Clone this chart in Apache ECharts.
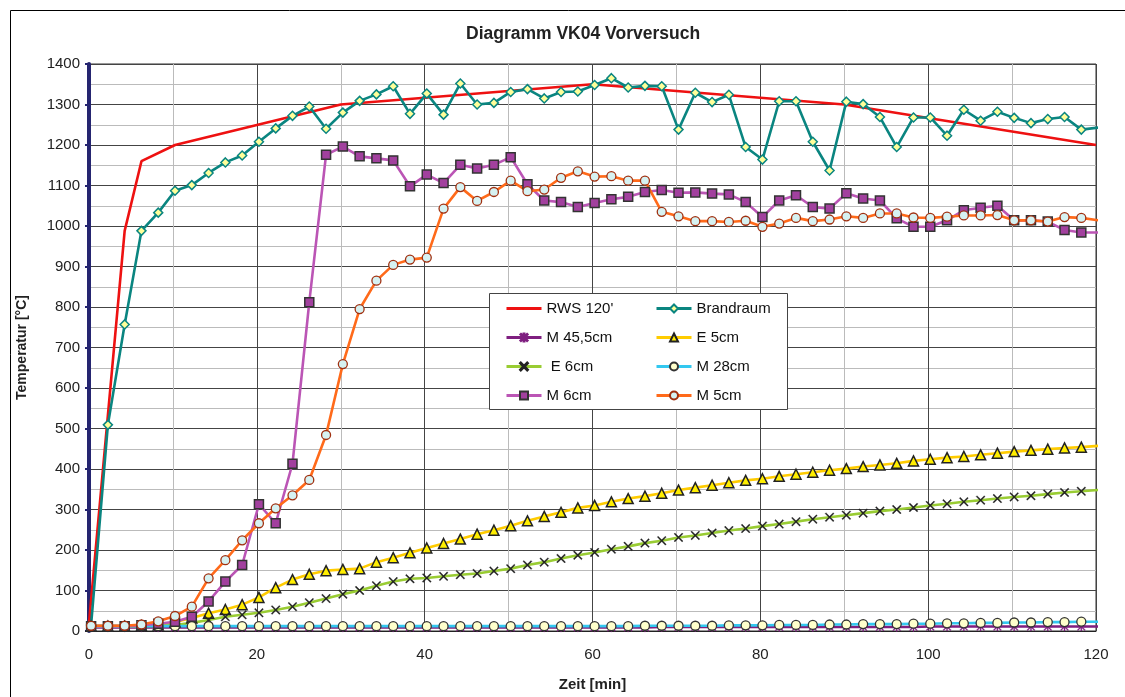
<!DOCTYPE html>
<html>
<head>
<meta charset="utf-8">
<script src="https://cdn.jsdelivr.net/npm/echarts@6/dist/echarts.min.js"></script>
<style>
html,body{margin:0;padding:0;background:#fff;}
#chart{width:1125px;height:697px;}
</style>
</head>
<body>
<div id="chart"></div>
<script>
// Time of each measurement [min]
var times = [0.25,2.25,4.25,6.25,8.25,10.25,12.25,14.25,16.25,18.25,
  20.25,22.25,24.25,26.25,28.25,30.25,32.25,34.25,36.25,38.25,
  40.25,42.25,44.25,46.25,48.25,50.25,52.25,54.25,56.25,58.25,
  60.25,62.25,64.25,66.25,68.25,70.25,72.25,74.25,76.25,78.25,
  80.25,82.25,84.25,86.25,88.25,90.25,92.25,94.25,96.25,98.25,
  100.25,102.25,104.25,106.25,108.25,110.25,112.25,114.25,116.25,118.25,120.25];

// RWS 120' design fire curve [time, temperature]
var rwsTimes = [0, 4.25, 6.25, 10.25, 30, 60, 90, 120];
var rwsTemps = [20, 988, 1160, 1200, 1300, 1350, 1300, 1200];

var brandraum = [15,509,757,988,1033,1087,1101,1131,1157,1174,
  1208,1241,1272,1295,1240,1280,1309,1325,1345,1277,
  1327,1275,1352,1300,1304,1331,1338,1315,1331,1332,
  1348,1365,1342,1346,1345,1238,1329,1306,1324,1195,
  1164,1308,1308,1208,1137,1307,1301,1269,1195,1268,
  1268,1223,1287,1260,1282,1267,1254,1264,1269,1238,1243];

var m455 = [9,9,9,9,9,9,9,9,9,9,
  9,9,9,9,9,9,9,9,9,9,
  9,9,9,9,9,9,9,9,9,9,
  9,9,9,9,10,10,10,10,10,10,
  10,10,10,10,10,10,10,10,10,10,
  11,11,11,11,11,11,11,11,11,11,11];

var e5 = [12,12,12,13,15,22,32,44,53,65,
  83,107,127,140,149,152,154,170,181,193,
  205,216,227,239,249,260,272,283,293,304,
  310,319,327,333,340,348,354,360,366,372,
  376,382,387,392,397,401,406,410,414,420,
  424,428,431,435,439,443,446,449,452,454,457];

var e6 = [12,12,12,12,13,15,20,27,35,40,
  45,52,60,70,80,91,100,112,122,129,
  131,135,139,142,148,154,163,170,179,187,
  194,202,209,217,223,231,236,242,248,253,
  259,264,270,276,281,286,291,296,300,305,
  310,314,319,323,327,331,334,338,342,345,348];

var m28 = [12,12,12,12,12,12,12,12,12,12,
  12,12,12,12,12,12,12,12,12,12,
  12,12,12,12,12,12,12,12,12,12,
  12,12,12,13,13,13,13,13,14,14,
  14,15,15,15,16,16,17,17,17,18,
  18,19,19,20,20,21,21,22,22,23,23];

var m6 = [12,12,12,14,18,23,35,73,122,163,
  313,266,413,812,1176,1196,1172,1167,1162,1098,
  1127,1106,1151,1142,1151,1170,1103,1063,1059,1047,
  1057,1066,1072,1084,1089,1082,1083,1080,1078,1059,
  1022,1063,1076,1047,1043,1081,1068,1063,1019,998,
  998,1014,1039,1045,1050,1014,1014,1011,990,984,984];

var m5 = [13,13,13,16,24,37,60,130,175,224,
  266,303,335,373,484,659,795,865,904,917,
  922,1043,1096,1062,1084,1112,1086,1090,1119,1135,
  1122,1123,1112,1112,1035,1024,1012,1012,1010,1013,
  998,1006,1020,1012,1016,1024,1020,1031,1031,1021,
  1020,1023,1026,1026,1027,1014,1014,1011,1022,1020,1014];

var xTicks = [0, 20, 40, 60, 80, 100, 120];
var yRange = [0, 1400];

function pairs(xs, ys) {
  var out = [];
  for (var i = 0; i < ys.length; i++) out.push([xs[i], ys[i]]);
  return out;
}

var FONT = '"Liberation Sans", Arial, sans-serif';
var crossPath = 'path://M0,1L1,0L5,4L9,0L10,1L6,5L10,9L9,10L5,6L1,10L0,9L4,5Z';
var starPath = 'path://M4.4,0H5.6V10H4.4Z M0,4.4H10V5.6H0Z M1.2,0.4L9.6,8.8L8.8,9.6L0.4,1.2Z M8.8,0.4L9.6,1.2L1.2,9.6L0.4,8.8Z';

function lineSeries(name, data, color, symbol, size, fill, border, bw) {
  return {
    name: name, type: 'line', data: data,
    lineStyle: {color: color, width: 2.6},
    itemStyle: {color: fill, borderColor: border, borderWidth: bw},
    symbol: symbol, symbolSize: size, showSymbol: symbol !== 'none',
    clip: true, emphasis: {disabled: true}, animation: false
  };
}

var legendCommon = {
  orient: 'vertical', top: 300, itemWidth: 35, itemHeight: 10, itemGap: 12, padding: 0,
  lineStyle: {width: 3},
  textStyle: {fontSize: 15, color: '#111', fontFamily: FONT, lineHeight: 17}, selectedMode: false, z: 6
};

var chart = echarts.init(document.getElementById('chart'), null, {renderer: 'canvas'});
var option = {
  backgroundColor: '#ffffff',
  animation: false,
  textStyle: {fontFamily: FONT},
  grid: {left: 89, right: 29, top: 64, bottom: 65, show: true, borderColor: '#333', borderWidth: 1, backgroundColor: '#fff'},
  xAxis: {
    type: 'value', min: xTicks[0], max: xTicks[xTicks.length - 1], interval: 20,
    name: 'Zeit [min]', nameLocation: 'middle', nameGap: 46,
    nameTextStyle: {fontSize: 15, fontWeight: 'bold', color: '#222', fontFamily: FONT},
    axisLine: {show: true, lineStyle: {color: '#222', width: 1}},
    axisTick: {show: false},
    axisLabel: {fontSize: 15, color: '#222', margin: 16, fontFamily: FONT},
    splitLine: {show: true, lineStyle: {color: '#444', width: 1}},
    minorTick: {show: false, splitNumber: 2},
    minorSplitLine: {show: true, lineStyle: {color: '#bbb', width: 1}}
  },
  yAxis: {
    type: 'value', min: yRange[0], max: yRange[1], interval: 100,
    name: 'Temperatur [°C]', nameLocation: 'middle', nameGap: 60,
    nameTextStyle: {fontSize: 14, fontWeight: 'bold', color: '#222', fontFamily: FONT},
    axisLine: {show: true, onZero: false, lineStyle: {color: '#252570', width: 4}},
    axisTick: {show: true, length: 4, lineStyle: {color: '#252570', width: 2}},
    axisLabel: {fontSize: 15, color: '#222', margin: 9, fontFamily: FONT,
      formatter: function (v) { return String(v); }},
    splitLine: {show: true, lineStyle: {color: '#444', width: 1}},
    minorTick: {show: false, splitNumber: 2},
    minorSplitLine: {show: true, lineStyle: {color: '#bbb', width: 1}}
  },
  legend: [
    Object.assign({}, legendCommon, {
      left: 505,
      data: [{name: "RWS 120'", itemStyle: {opacity: 0}}, 'M 45,5cm', ' E 6cm', 'M 6cm']
    }),
    Object.assign({}, legendCommon, {
      left: 655,
      data: ['Brandraum', 'E 5cm', 'M 28cm', 'M 5cm']
    })
  ],
  graphic: [
    {type: 'rect', left: 8, top: 8, z: -10, silent: true,
     shape: {x: 0, y: 0, width: 1140, height: 720},
     style: {fill: 'none', stroke: '#000', lineWidth: 1}},
    {type: 'text', left: 466, top: 25, silent: true, z: 5,
     style: {text: 'Diagramm VK04 Vorversuch', font: 'bold 17.5px ' + FONT, fill: '#222'}},
    {type: 'rect', z: 5, silent: true,
     shape: {x: 489.5, y: 293.5, width: 298, height: 116},
     style: {fill: '#fff', stroke: '#444', lineWidth: 1}}
  ],
  series: [
    {name: "RWS 120'", type: 'line', data: pairs(rwsTimes, rwsTemps),
     lineStyle: {color: '#EE1111', width: 2.6}, itemStyle: {color: '#EE1111'},
     symbol: 'none', showSymbol: false, clip: true, animation: false, emphasis: {disabled: true}},
    lineSeries('Brandraum', pairs(times, brandraum), '#0A8580', 'diamond', 9, '#FFFF99', '#0A8580', 1.5),
    lineSeries('M 45,5cm', pairs(times, m455), '#7F1F80', starPath, 9, '#7F1F80', '#7F1F80', 0.3),
    lineSeries('E 5cm', pairs(times, e5), '#FFCC00', 'triangle', 10, '#FFEE00', '#222', 1.5),
    lineSeries(' E 6cm', pairs(times, e6), '#99CC33', crossPath, 9, '#222', '#222', 0.3),
    lineSeries('M 28cm', pairs(times, m28), '#33C8F0', 'circle', 9, '#FFFFCC', '#333', 1.3),
    lineSeries('M 6cm', pairs(times, m6), '#BB55B5', 'rect', 9, '#A2409E', '#333', 1.5),
    lineSeries('M 5cm', pairs(times, m5), '#FF6A1A', 'circle', 9, '#D6F2F2', '#A03010', 1.3)
  ]
};
chart.setOption(option);
</script>
</body>
</html>
